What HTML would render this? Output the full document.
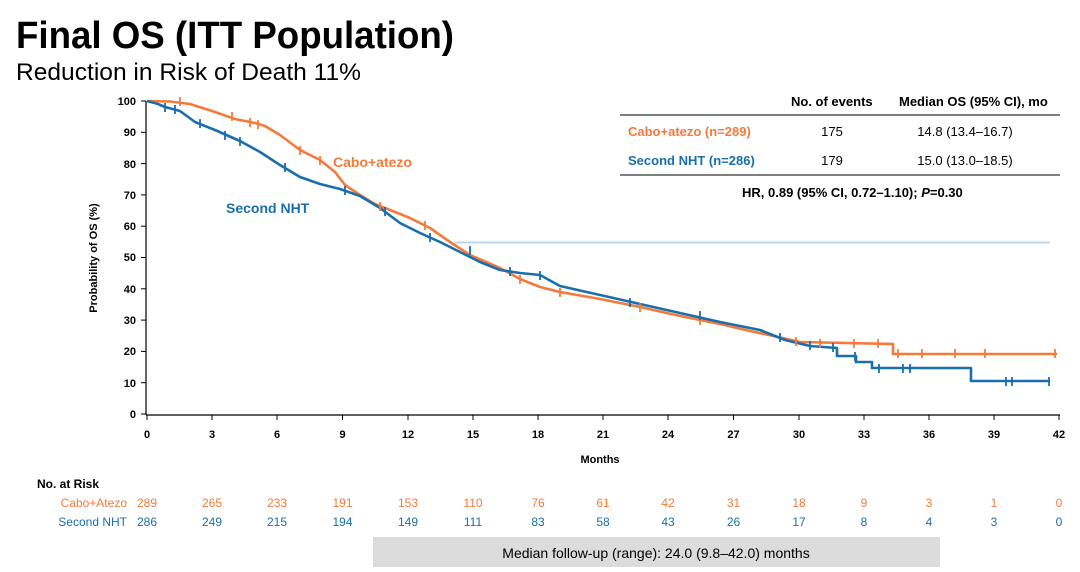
<!DOCTYPE html>
<html><head><meta charset="utf-8"><style>
body{margin:0;width:1080px;height:567px;background:#fff;overflow:hidden;font-family:"Liberation Sans",Arial,sans-serif}
svg text{font-family:"Liberation Sans",Arial,sans-serif}
</style></head><body>
<svg width="1080" height="567" viewBox="0 0 1080 567" xmlns="http://www.w3.org/2000/svg">
<text x="16" y="48" font-size="38" font-weight="bold" fill="#000" textLength="438" lengthAdjust="spacingAndGlyphs">Final OS (ITT Population)</text>
<text x="16" y="80" font-size="24" fill="#000" textLength="345" lengthAdjust="spacingAndGlyphs">Reduction in Risk of Death 11%</text>
<g stroke="#000" stroke-width="1.2" fill="none">
<line x1="146" y1="101" x2="146" y2="415"/>
<line x1="146" y1="415" x2="1060" y2="415"/>
</g>
<g stroke="#000" stroke-width="1">
<line x1="141" y1="101" x2="146" y2="101"/><line x1="141" y1="132.3" x2="146" y2="132.3"/><line x1="141" y1="163.6" x2="146" y2="163.6"/><line x1="141" y1="194.9" x2="146" y2="194.9"/><line x1="141" y1="226.2" x2="146" y2="226.2"/><line x1="141" y1="257.5" x2="146" y2="257.5"/><line x1="141" y1="288.8" x2="146" y2="288.8"/><line x1="141" y1="320.1" x2="146" y2="320.1"/><line x1="141" y1="351.4" x2="146" y2="351.4"/><line x1="141" y1="382.7" x2="146" y2="382.7"/><line x1="141" y1="414" x2="146" y2="414"/>
</g>
<g font-size="11" font-weight="bold" text-anchor="end" fill="#000">
<text x="136" y="105">100</text><text x="136" y="136">90</text><text x="136" y="168">80</text><text x="136" y="199">70</text><text x="136" y="230">60</text><text x="136" y="261">50</text><text x="136" y="293">40</text><text x="136" y="324">30</text><text x="136" y="355">20</text><text x="136" y="387">10</text><text x="136" y="418">0</text>
</g>
<g stroke="#000"><line x1="147" y1="415" x2="147" y2="420"/><line x1="212" y1="415" x2="212" y2="420"/><line x1="277" y1="415" x2="277" y2="420"/><line x1="342.5" y1="415" x2="342.5" y2="420"/><line x1="408" y1="415" x2="408" y2="420"/><line x1="473" y1="415" x2="473" y2="420"/><line x1="538" y1="415" x2="538" y2="420"/><line x1="603" y1="415" x2="603" y2="420"/><line x1="668" y1="415" x2="668" y2="420"/><line x1="733.5" y1="415" x2="733.5" y2="420"/><line x1="799" y1="415" x2="799" y2="420"/><line x1="864" y1="415" x2="864" y2="420"/><line x1="929" y1="415" x2="929" y2="420"/><line x1="994" y1="415" x2="994" y2="420"/><line x1="1059" y1="415" x2="1059" y2="420"/></g>
<g font-size="11" font-weight="bold" text-anchor="middle" fill="#000">
<text x="147" y="438">0</text><text x="212" y="438">3</text><text x="277" y="438">6</text><text x="342.5" y="438">9</text><text x="408" y="438">12</text><text x="473" y="438">15</text><text x="538" y="438">18</text><text x="603" y="438">21</text><text x="668" y="438">24</text><text x="733.5" y="438">27</text><text x="799" y="438">30</text><text x="864" y="438">33</text><text x="929" y="438">36</text><text x="994" y="438">39</text><text x="1059" y="438">42</text>
<text x="600" y="463">Months</text>
</g>
<text transform="translate(97,258) rotate(-90)" font-size="11" font-weight="bold" text-anchor="middle">Probability of OS (%)</text>
<line x1="455" y1="242.5" x2="1050" y2="242.5" stroke="#b8d8ec" stroke-width="2"/>
<polyline fill="none" stroke="#f47a3c" stroke-width="2.6" stroke-linejoin="round" points="147,101 170,101.5 190,104 215,112 235,119 255,123 265,126 280,135 300,150 320,160 335,172 345,185 360,195 375,204 390,210 410,218 430,228 450,242 470,255 500,268 520,279 540,287 560,292 600,299 640,307 680,316 720,324 750,331 783,338 800,342 893,344 893,354 1057,354"/>
<polyline fill="none" stroke="#1a6fab" stroke-width="2.6" stroke-linejoin="round" points="147,101 158,104 165,107 180,111 195,122 215,130 240,141 260,152 280,165 300,177 320,184 340,189 360,196 380,208 400,223 420,233 440,242 460,252 480,262 500,270 520,273 540,275 560,286 600,295 640,304 680,313 720,322 760,330 785,340 810,346 837,348 837,356 856,356 856,362 872,362 872,368 971,368 971,381 1050,381"/>
<g stroke="#f47a3c" stroke-width="1.8">
<line x1="180" y1="97" x2="180" y2="106"/><line x1="232" y1="112" x2="232" y2="121"/><line x1="250" y1="118" x2="250" y2="127"/><line x1="258" y1="120" x2="258" y2="129"/><line x1="300" y1="146" x2="300" y2="155"/><line x1="320" y1="156" x2="320" y2="165"/><line x1="380" y1="202" x2="380" y2="211"/><line x1="425" y1="221" x2="425" y2="230"/><line x1="520" y1="275" x2="520" y2="284"/><line x1="560" y1="288" x2="560" y2="297"/><line x1="640" y1="303" x2="640" y2="312"/><line x1="700" y1="316" x2="700" y2="325"/><line x1="796" y1="337" x2="796" y2="346"/><line x1="820" y1="339" x2="820" y2="348"/><line x1="854" y1="339" x2="854" y2="348"/><line x1="878" y1="339" x2="878" y2="348"/><line x1="898" y1="349" x2="898" y2="358"/><line x1="922" y1="349" x2="922" y2="358"/><line x1="955" y1="349" x2="955" y2="358"/><line x1="985" y1="349" x2="985" y2="358"/><line x1="1055" y1="349" x2="1055" y2="358"/>
</g>
<g stroke="#1a6fab" stroke-width="1.8">
<line x1="165" y1="103" x2="165" y2="112"/><line x1="175" y1="105" x2="175" y2="114"/><line x1="200" y1="119" x2="200" y2="128"/><line x1="225" y1="131" x2="225" y2="140"/><line x1="240" y1="137" x2="240" y2="146"/><line x1="285" y1="163" x2="285" y2="172"/><line x1="345" y1="186" x2="345" y2="195"/><line x1="385" y1="207" x2="385" y2="216"/><line x1="430" y1="233" x2="430" y2="242"/><line x1="470" y1="246" x2="470" y2="255"/><line x1="510" y1="267" x2="510" y2="276"/><line x1="540" y1="271" x2="540" y2="280"/><line x1="630" y1="298" x2="630" y2="307"/><line x1="700" y1="311" x2="700" y2="320"/><line x1="780" y1="333" x2="780" y2="342"/><line x1="810" y1="341" x2="810" y2="350"/><line x1="833" y1="343" x2="833" y2="352"/><line x1="855" y1="352" x2="855" y2="361"/><line x1="879" y1="364" x2="879" y2="373"/><line x1="903" y1="364" x2="903" y2="373"/><line x1="910" y1="364" x2="910" y2="373"/><line x1="1006" y1="377" x2="1006" y2="386"/><line x1="1012" y1="377" x2="1012" y2="386"/><line x1="1049" y1="377" x2="1049" y2="386"/>
</g>
<text x="333" y="167" font-size="14" font-weight="bold" fill="#f47a3c">Cabo+atezo</text>
<text x="226" y="213" font-size="14" font-weight="bold" fill="#1a6fab">Second NHT</text>
<text x="791" y="106" font-size="13" font-weight="bold" fill="#000">No. of events</text>
<text x="899" y="106" font-size="13" font-weight="bold" fill="#000">Median OS (95% CI), mo</text>
<line x1="620" y1="115" x2="1060" y2="115" stroke="#555" stroke-width="1.5"/>
<text x="628" y="136" font-size="13" font-weight="bold" fill="#f47a3c">Cabo+atezo (n=289)</text>
<text x="832" y="136" font-size="13" text-anchor="middle">175</text>
<text x="965" y="136" font-size="13" text-anchor="middle">14.8 (13.4–16.7)</text>
<text x="628" y="165" font-size="13" font-weight="bold" fill="#1a6fab">Second NHT (n=286)</text>
<text x="832" y="165" font-size="13" text-anchor="middle">179</text>
<text x="965" y="165" font-size="13" text-anchor="middle">15.0 (13.0–18.5)</text>
<line x1="620" y1="175" x2="1060" y2="175" stroke="#555" stroke-width="1.5"/>
<text x="742" y="197" font-size="13" font-weight="bold">HR, 0.89 (95% CI, 0.72–1.10); <tspan font-style="italic">P</tspan>=0.30</text>
<text x="37" y="488" font-size="12" font-weight="bold">No. at Risk</text>
<text x="127" y="507" font-size="12" text-anchor="end" fill="#f47a3c">Cabo+Atezo</text>
<text x="127" y="526" font-size="12" text-anchor="end" fill="#1a6fab">Second NHT</text>
<g font-size="12" text-anchor="middle" fill="#f47a3c">
<text x="147" y="507">289</text><text x="212" y="507">265</text><text x="277" y="507">233</text><text x="342.5" y="507">191</text><text x="408" y="507">153</text><text x="473" y="507">110</text><text x="538" y="507">76</text><text x="603" y="507">61</text><text x="668" y="507">42</text><text x="733.5" y="507">31</text><text x="799" y="507">18</text><text x="864" y="507">9</text><text x="929" y="507">3</text><text x="994" y="507">1</text><text x="1059" y="507">0</text>
</g>
<g font-size="12" text-anchor="middle" fill="#1a6fab">
<text x="147" y="526">286</text><text x="212" y="526">249</text><text x="277" y="526">215</text><text x="342.5" y="526">194</text><text x="408" y="526">149</text><text x="473" y="526">111</text><text x="538" y="526">83</text><text x="603" y="526">58</text><text x="668" y="526">43</text><text x="733.5" y="526">26</text><text x="799" y="526">17</text><text x="864" y="526">8</text><text x="929" y="526">4</text><text x="994" y="526">3</text><text x="1059" y="526">0</text>
</g>
<rect x="373" y="537" width="567" height="30" fill="#dcdcdc"/>
<text x="656" y="558" font-size="14" text-anchor="middle">Median follow-up (range): 24.0 (9.8–42.0) months</text>
</svg>
</body></html>
